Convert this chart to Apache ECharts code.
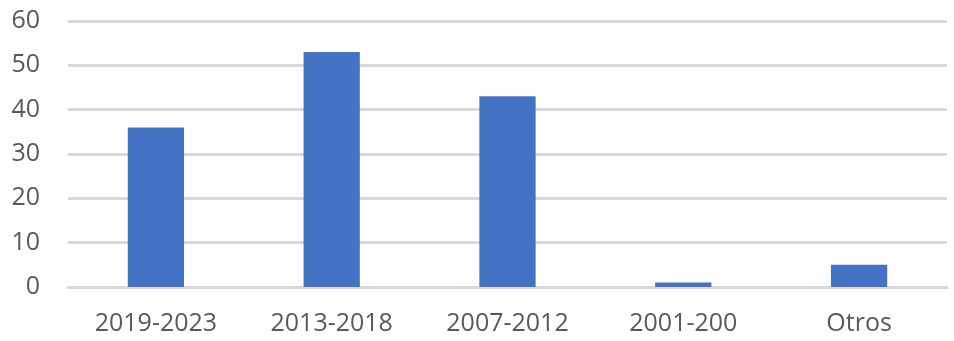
<!DOCTYPE html>
<html><head><meta charset="utf-8">
<script src="https://cdn.jsdelivr.net/npm/echarts@6/dist/echarts.min.js"></script>
<style>html,body{margin:0;padding:0;background:#fff}#c{width:954px;height:341px}</style>
</head><body><div id="c"></div>
<script>
const categories = ["2019-2023", "2013-2018", "2007-2012", "2001-200", "Otros"];
const values = [36, 53, 43, 1, 5];
const yTicks = [0, 10, 20, 30, 40, 50, 60];

const chart = echarts.init(document.getElementById('c'), null, {renderer: 'canvas'});
chart.setOption({
  animation: false,
  grid: {left: 68, right: 7, top: 21, bottom: 54, containLabel: false},
  xAxis: {
    type: 'category', data: categories,
    axisLine: {show: true, lineStyle: {color: '#d9d9d9', width: 3}},
    axisTick: {show: false},
    axisLabel: {color: '#595959', fontFamily: 'Open Sans', fontSize: 25, margin: 24}
  },
  yAxis: {
    type: 'value', min: yTicks[0], max: yTicks[yTicks.length - 1], interval: 10,
    axisLine: {show: false}, axisTick: {show: false},
    splitLine: {lineStyle: {color: '#d9d9d9', width: 3}},
    axisLabel: {color: '#595959', fontFamily: 'Open Sans', fontSize: 25, margin: 28}
  },
  series: [{
    type: 'bar', data: values, barWidth: '32%',
    itemStyle: {color: '#4472C4'}
  }]
});
</script></body></html>
